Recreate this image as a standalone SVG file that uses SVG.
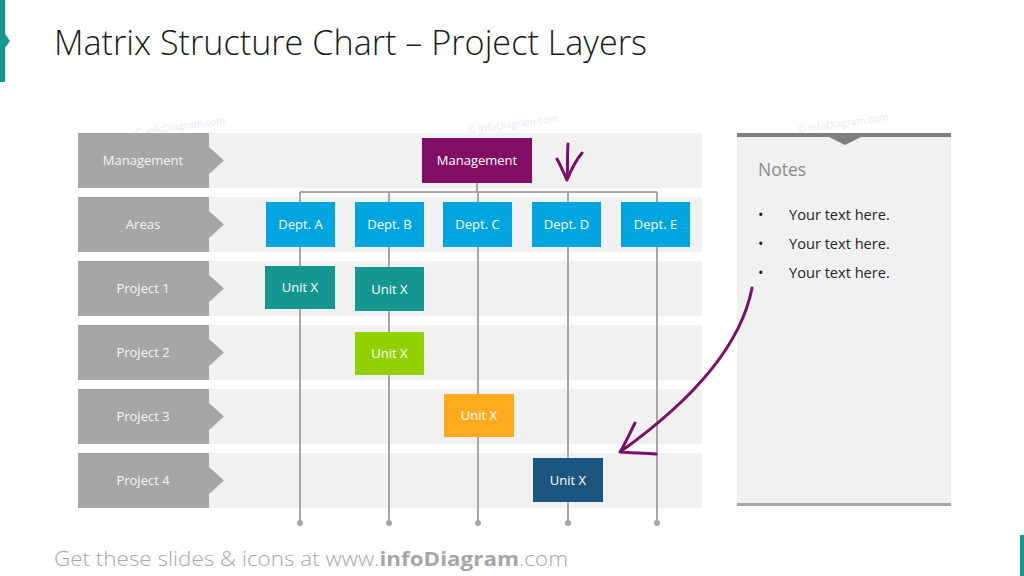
<svg xmlns="http://www.w3.org/2000/svg" width="1024" height="576" viewBox="0 0 1024 576">
<style>
.row{fill:#f1f1f1}
.lab{fill:#a6a6a6}
.labt{font-family:"Open Sans",sans-serif;font-size:13px;fill:#f4f4f4;text-anchor:middle}
.bt{font-family:"Open Sans",sans-serif;font-size:13px;fill:#ffffff;text-anchor:middle}
.ln{stroke:#a6a6a6;stroke-width:2;fill:none}
.dot{fill:#a6a6a6}
.pen{stroke:#7d0f68;stroke-width:3;fill:none;stroke-linecap:round;stroke-linejoin:round}
.note{font-family:"Open Sans",sans-serif;font-size:14.6px;fill:#262626}
.wm{font-family:"Open Sans",sans-serif;font-size:10px;fill:#e3e8f0}
</style>
<rect width="1024" height="576" fill="#ffffff"/>
<polygon points="0,0 5,0 5,34 10,41 5,48 5,82 0,82" fill="#17988f"/>
<rect x="1020" y="535" width="4" height="41" fill="#17988f"/>
<text x="54" y="55" font-family="Open Sans, sans-serif" font-weight="300" font-size="34" fill="#1a1a1a" textLength="593" lengthAdjust="spacingAndGlyphs">Matrix Structure Chart – Project Layers</text>

<g class="wm">
<text x="135" y="136" transform="rotate(-8 135 136)">© infoDiagram.com</text>
<text x="468" y="134" transform="rotate(-8 468 134)">© infoDiagram.com</text>
<text x="798" y="133" transform="rotate(-8 798 133)">© infoDiagram.com</text>
</g>

<g id="rows">
<rect class="row" x="209" y="133" width="493" height="55"/>
<rect class="row" x="209" y="197" width="493" height="55"/>
<rect class="row" x="209" y="261" width="493" height="55"/>
<rect class="row" x="209" y="325" width="493" height="55"/>
<rect class="row" x="209" y="389" width="493" height="55"/>
<rect class="row" x="209" y="453" width="493" height="55"/>
</g>

<g id="label-management"><polygon class="lab" points="78,133 209,133 209,147 224,160.5 209,174 209,188 78,188"/><text class="labt" x="143" y="165">Management</text></g>
<g id="label-areas"><polygon class="lab" points="78,197 209,197 209,211 224,224.5 209,238 209,252 78,252"/><text class="labt" x="143" y="229">Areas</text></g>
<g id="label-project1"><polygon class="lab" points="78,261 209,261 209,275 224,288.5 209,302 209,316 78,316"/><text class="labt" x="143" y="293">Project 1</text></g>
<g id="label-project2"><polygon class="lab" points="78,325 209,325 209,339 224,352.5 209,366 209,380 78,380"/><text class="labt" x="143" y="357">Project 2</text></g>
<g id="label-project3"><polygon class="lab" points="78,389 209,389 209,403 224,416.5 209,430 209,444 78,444"/><text class="labt" x="143" y="421">Project 3</text></g>
<g id="label-project4"><polygon class="lab" points="78,453 209,453 209,467 224,480.5 209,494 209,508 78,508"/><text class="labt" x="143" y="485">Project 4</text></g>

<g id="connectors">
<path class="ln" d="M477,183 V192 M300,192 H657 M300,192 V523 M389,192 V523 M478,192 V523 M568,192 V523 M657,192 V523"/>
<circle class="dot" cx="300" cy="523" r="3"/>
<circle class="dot" cx="389" cy="523" r="3"/>
<circle class="dot" cx="478" cy="523" r="3"/>
<circle class="dot" cx="568" cy="523" r="3"/>
<circle class="dot" cx="657" cy="523" r="3"/>
</g>

<g id="management"><rect x="422" y="138" width="110" height="45" fill="#820d64"/><text class="bt" x="477" y="165">Management</text></g>
<g id="dept-a"><rect x="266" y="202" width="69" height="45" fill="#00a5df"/><text class="bt" x="300.5" y="229">Dept. A</text></g>
<g id="dept-b"><rect x="355" y="202" width="69" height="45" fill="#00a5df"/><text class="bt" x="389.5" y="229">Dept. B</text></g>
<g id="dept-c"><rect x="443" y="202" width="69" height="45" fill="#00a5df"/><text class="bt" x="477.5" y="229">Dept. C</text></g>
<g id="dept-d"><rect x="532" y="202" width="69" height="45" fill="#00a5df"/><text class="bt" x="566.5" y="229">Dept. D</text></g>
<g id="dept-e"><rect x="621" y="202" width="69" height="45" fill="#00a5df"/><text class="bt" x="655.5" y="229">Dept. E</text></g>

<g id="unit-p1-a"><rect x="265" y="266" width="70" height="43" fill="#159690"/><text class="bt" x="300" y="292">Unit X</text></g>
<g id="unit-p1-b"><rect x="355" y="267" width="69" height="44" fill="#159690"/><text class="bt" x="389.5" y="294">Unit X</text></g>
<g id="unit-p2"><rect x="355" y="332" width="69" height="43" fill="#92d000"/><text class="bt" x="389.5" y="358">Unit X</text></g>
<g id="unit-p3"><rect x="444" y="394" width="70" height="43" fill="#fdab1c"/><text class="bt" x="479" y="420">Unit X</text></g>
<g id="unit-p4"><rect x="533" y="458" width="70" height="44" fill="#1b567e"/><text class="bt" x="568" y="485">Unit X</text></g>

<g id="notes">
<rect x="737" y="133" width="214" height="373" fill="#f1f1f1"/>
<rect x="737" y="133" width="214" height="4" fill="#7f7f7f"/>
<polygon points="827,136 863,136 845,145" fill="#7f7f7f"/>
<rect x="737" y="503" width="214" height="3" fill="#a6a6a6"/>
<text x="758" y="176" font-family="Open Sans, sans-serif" font-size="17.5" fill="#8c8c8c">Notes</text>
<text class="note" x="758" y="220">•</text><text class="note" x="789" y="220">Your text here.</text>
<text class="note" x="758" y="249">•</text><text class="note" x="789" y="249">Your text here.</text>
<text class="note" x="758" y="278">•</text><text class="note" x="789" y="278">Your text here.</text>
</g>

<g id="pen-arrows">
<path class="pen" d="M568,144 C567,158 568,170 567,180 M557,159 C561,166 564,174 567,180 C571,170 576,160 582,153"/>
<path class="pen" d="M752,288 C742,340 700,395 620,452 M635,423 C630,433 625,444 620,452 C632,453 645,453 656,454"/>
</g>

<text x="54" y="566" font-family="Open Sans, sans-serif" font-weight="300" font-size="20" fill="#a6a6a6" textLength="514" lengthAdjust="spacingAndGlyphs">Get these slides &amp; icons at www.<tspan font-weight="700">infoDiagram</tspan>.com</text>
</svg>
